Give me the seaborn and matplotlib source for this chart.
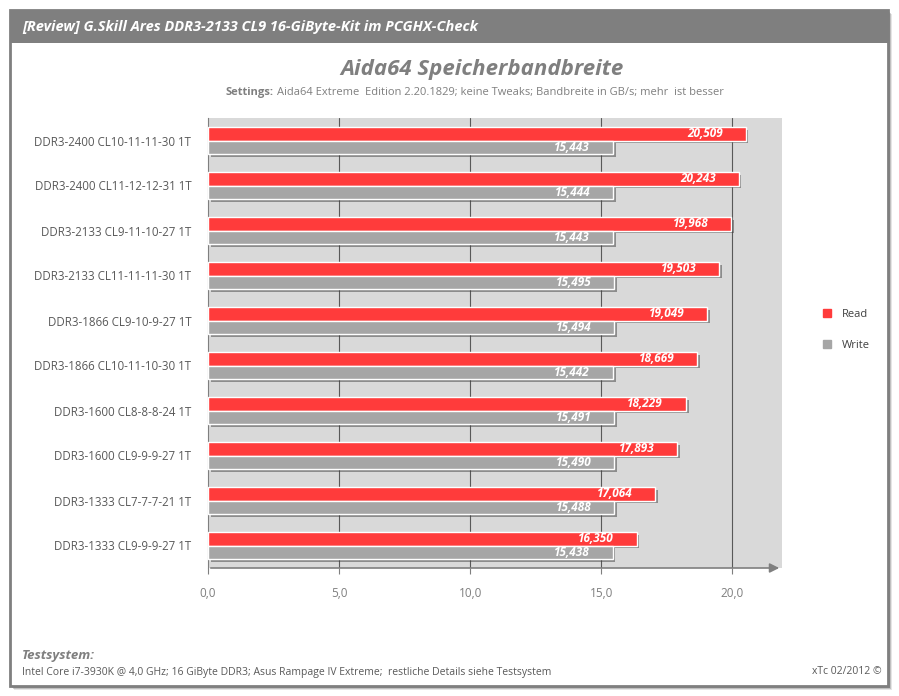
import pandas as pd
import matplotlib.pyplot as plt
import matplotlib.patheffects as pe
from matplotlib.patches import Rectangle
from matplotlib.lines import Line2D
import seaborn as sns

configs = [
    "DDR3-2400 CL10-11-11-30 1T",
    "DDR3-2400 CL11-12-12-31 1T",
    "DDR3-2133 CL9-11-10-27 1T",
    "DDR3-2133 CL11-11-11-30 1T",
    "DDR3-1866 CL9-10-9-27 1T",
    "DDR3-1866 CL10-11-10-30 1T",
    "DDR3-1600 CL8-8-8-24 1T",
    "DDR3-1600 CL9-9-9-27 1T",
    "DDR3-1333 CL7-7-7-21 1T",
    "DDR3-1333 CL9-9-9-27 1T",
]
read_vals = [20.509, 20.243, 19.968, 19.503, 19.049, 18.669, 18.229, 17.893, 17.064, 16.350]
write_vals = [15.443, 15.444, 15.443, 15.495, 15.494, 15.442, 15.491, 15.490, 15.488, 15.438]
series = ["Read", "Write"]
colors = ["#FF3B3B", "#A6A6A6"]
xticks = [0, 5, 10, 15, 20]

df = pd.DataFrame({
    "Config": configs * 2,
    "Test": ["Read"] * len(configs) + ["Write"] * len(configs),
    "GBs": read_vals + write_vals,
})

sns.set_style("white")
plt.rcParams["font.family"] = ["Open Sans", "DejaVu Sans"]

W, H = 899, 696
fig = plt.figure(figsize=(W / 100, H / 100), dpi=100)


def px(x0, y0, x1, y1):
    return (x0 / W, 1 - y1 / H), (x1 - x0) / W, (y1 - y0) / H


# card shadow, card, header band
for off, a in [(4, 0.15), (3, 0.25), (2, 0.35)]:
    xy, w, h = px(10 + off, 10 + off, 888 + off, 686 + off)
    fig.patches.append(Rectangle(xy, w, h, transform=fig.transFigure, facecolor="#555555",
                                 alpha=a, edgecolor="none", zorder=0))
xy, w, h = px(10, 10, 888, 686)
fig.patches.append(Rectangle(xy, w, h, transform=fig.transFigure, facecolor="white",
                             edgecolor="#7F7F7F", linewidth=2, zorder=1))
xy, w, h = px(10, 10, 888, 43)
fig.patches.append(Rectangle(xy, w, h, transform=fig.transFigure, facecolor="#7F7F7F",
                             edgecolor="none", zorder=2))

fig.text(22 / W, 1 - 27 / H, "[Review] G.Skill Ares DDR3-2133 CL9 16-GiByte-Kit im PCGHX-Check",
         color="white", fontsize=10.5, fontweight="bold", style="italic", va="center", zorder=3)
fig.text(482 / W, 1 - 69 / H, "Aida64 Speicherbandbreite", color="#7F7F7F", fontsize=16,
         fontweight="bold", style="italic", ha="center", va="center", zorder=3)
fig.text(274 / W, 1 - 92 / H, "Settings:", color="#7F7F7F", fontsize=8, fontweight="bold",
         ha="right", va="center", zorder=3)
fig.text(277 / W, 1 - 92 / H, "Aida64 Extreme  Edition 2.20.1829; keine Tweaks; Bandbreite in GB/s; mehr  ist besser",
         color="#7F7F7F", fontsize=8, ha="left", va="center", zorder=3)
fig.text(22 / W, 1 - 655 / H, "Testsystem:", color="#7F7F7F", fontsize=9.5, fontweight="bold",
         style="italic", va="center", zorder=3)
fig.text(22 / W, 1 - 672 / H, "Intel Core i7-3930K @ 4,0 GHz; 16 GiByte DDR3; Asus Rampage IV Extreme;  restliche Details siehe Testsystem",
         color="#595959", fontsize=7.5, va="center", zorder=3)
fig.text(882 / W, 1 - 672 / H, "xTc 02/2012 ©", color="#595959", fontsize=7.5, ha="right",
         va="center", zorder=3)

ax = fig.add_axes([208 / W, 1 - 568 / H, 574 / W, 450 / H])
ax.set_zorder(5)
ax.set_facecolor("#D9D9D9")

sns.barplot(data=df, y="Config", x="GBs", hue="Test", hue_order=series, order=configs,
            palette=colors, orient="h", width=0.6, edgecolor="white", linewidth=1,
            saturation=1, legend=False, ax=ax)

shadow = [pe.SimplePatchShadow(offset=(2, -2), shadow_rgbFace="#404040", alpha=0.5), pe.Normal()]
for cont in ax.containers:
    for bar in cont:
        bar.set_path_effects(shadow)
        bar.set_zorder(3)
    labels = [f"{b.get_width():.3f}".replace(".", ",") for b in cont]
    ax.bar_label(cont, labels=labels, padding=-42, color="white", fontsize=8.5,
                 fontweight="bold", style="italic", zorder=4)

ax.set_xlim(0, 21.9)
ax.set_xticks(xticks)
ax.set_xticklabels([f"{t:.1f}".replace(".", ",") for t in xticks], color="#7F7F7F", fontsize=8.5)
ax.tick_params(axis="x", length=4, color="#7F7F7F", pad=10, bottom=True)
ax.tick_params(axis="y", length=0, pad=12, labelsize=8.3, labelcolor="#595959")
for t in xticks[1:]:
    ax.axvline(t, color="#595959", linewidth=0.8, zorder=1)
ax.set_xlabel("")
ax.set_ylabel("")
for s in ["top", "right"]:
    ax.spines[s].set_visible(False)
ax.spines["left"].set_color("#7F7F7F")
ax.spines["bottom"].set_visible(False)
ax.annotate("", xy=(1.0, 0), xytext=(0, 0), xycoords="axes fraction",
            arrowprops=dict(arrowstyle="-|>", color="#7F7F7F", lw=1.2, mutation_scale=14),
            annotation_clip=False)

handles = [Line2D([], [], marker="s", linestyle="none", markersize=6, color=c) for c in colors]
fig.legend(handles, series, loc="center left", bbox_to_anchor=(806 / W, 1 - 330 / H),
           frameon=False, fontsize=8, labelspacing=1.75, handletextpad=0.3, labelcolor="#404040")

fig.savefig("out.png", dpi=100)
